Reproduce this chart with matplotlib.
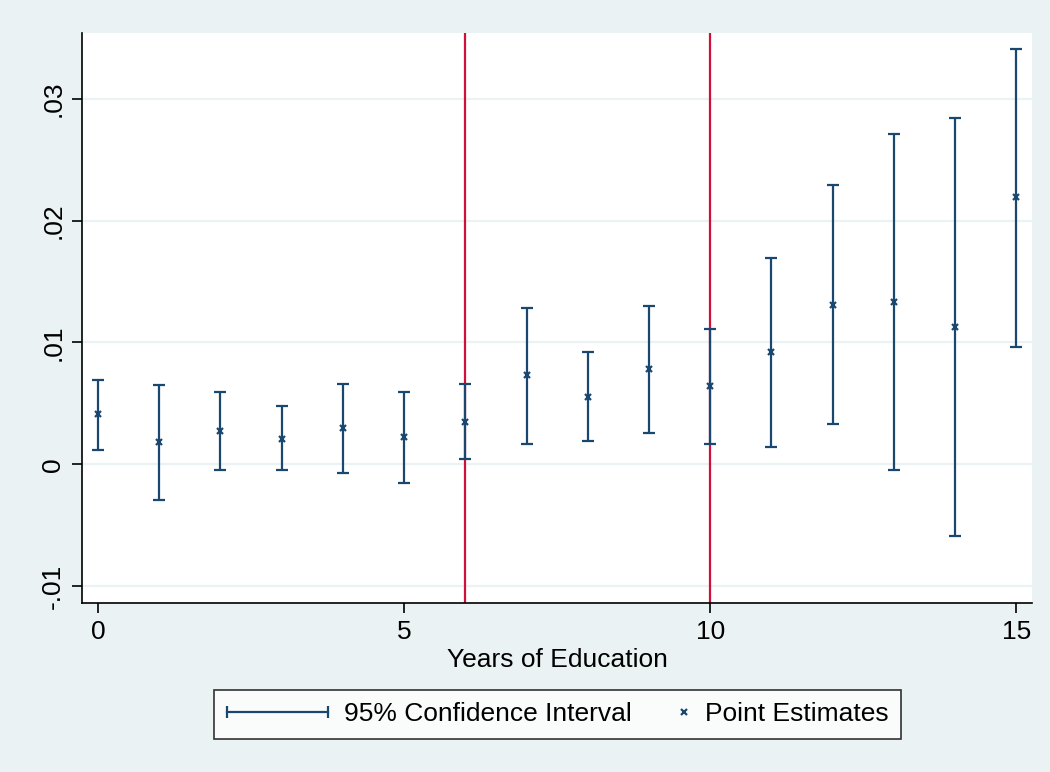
import matplotlib
matplotlib.use("Agg")
import matplotlib.pyplot as plt
from matplotlib.lines import Line2D
from matplotlib.legend_handler import HandlerLine2D

plt.rcParams['font.family'] = ['Liberation Sans', 'DejaVu Sans']

# data
years = [0, 1, 2, 3, 4, 5, 6, 7, 8, 9, 10, 11, 12, 13, 14, 15]
est = [0.0041, 0.0018, 0.0027, 0.0021, 0.0030, 0.0022, 0.0035, 0.0073,
       0.0055, 0.0078, 0.0064, 0.0092, 0.0131, 0.0133, 0.0113, 0.0219]
ci_lo = [0.0012, -0.0029, -0.0005, -0.0005, -0.0007, -0.0015, 0.0004, 0.0017,
         0.0019, 0.0026, 0.0017, 0.0014, 0.0033, -0.0005, -0.0059, 0.0096]
ci_hi = [0.0069, 0.0065, 0.0059, 0.0048, 0.0066, 0.0059, 0.0066, 0.0128,
         0.0092, 0.0130, 0.0111, 0.0169, 0.0229, 0.0271, 0.0284, 0.0341]
cutoffs = [6, 10]
yticks = [-0.01, 0, 0.01, 0.02, 0.03]
ytick_labels = ['-.01', '0', '.01', '.02', '.03']

navy = '#1A476F'
bg = '#EAF2F3'
red = '#D0103A'
fs = 19


# legend handler that puts the single marker at the right end of the handle box
class HandlerRightMarker(HandlerLine2D):
    def get_xdata(self, legend, xdescent, ydescent, width, height, fontsize):
        x = width - xdescent - 0.2 * fontsize
        return [x], [x]


fig = plt.figure(figsize=(10.5, 7.72), dpi=100, facecolor=bg)
ax = fig.add_axes([0.0781, 0.2189, 0.905, 0.738])
ax.set_facecolor('white')

ax.set_xlim(-0.26, 15.26)
ax.set_ylim(-0.01139, 0.03537)

for yt in yticks:
    ax.axhline(yt, color=bg, lw=1.6, zorder=0)

for c in cutoffs:
    ax.axvline(c, color=red, lw=1.6, zorder=1)

yerr = [[e - l for e, l in zip(est, ci_lo)], [h - e for e, h in zip(est, ci_hi)]]
ax.errorbar(years, est, yerr=yerr, fmt='none', ecolor=navy, elinewidth=1.6,
            capsize=4, capthick=1.6, zorder=2)
ax.plot(years, est, linestyle='none', marker='x', color=navy, ms=4.5, mew=1.6, zorder=3)

for s in ['top', 'right']:
    ax.spines[s].set_visible(False)
for s in ['left', 'bottom']:
    ax.spines[s].set_linewidth(1.2)
    ax.spines[s].set_color('black')

ax.set_xticks([0, 5, 10, 15])
ax.set_yticks(yticks)
ax.set_yticklabels(ytick_labels, rotation=90, va='center')
ax.tick_params(axis='both', length=7, width=1.2, labelsize=fs, pad=5)
ax.set_xlabel('Years of Education', fontsize=fs, labelpad=3)

ci_handle = Line2D([], [], color=navy, lw=1.6, marker='|', ms=9, mew=1.6)
pt_handle = Line2D([], [], color=navy, linestyle='none', marker='x', ms=4.5, mew=1.6)
leg = fig.legend([ci_handle, pt_handle], ['95% Confidence Interval', 'Point Estimates'],
                 loc='center', bbox_to_anchor=(0.5314, 0.0745), ncol=2, fontsize=fs,
                 frameon=True, fancybox=False, edgecolor='black', facecolor='white',
                 handlelength=3.83, handletextpad=0.6, columnspacing=-1.65,
                 borderpad=0.48, borderaxespad=0,
                 handler_map={ci_handle: HandlerLine2D(numpoints=2, marker_pad=0),
                              pt_handle: HandlerRightMarker(numpoints=1)})
leg.get_frame().set_linewidth(1.2)

fig.savefig('out.png', dpi=100, facecolor=bg)
